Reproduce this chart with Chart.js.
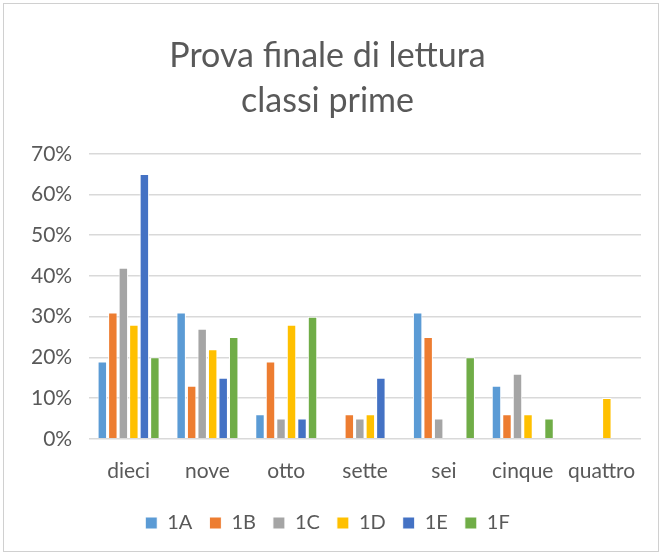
<!DOCTYPE html>
<html>
<head>
<meta charset="utf-8">
<script src="https://cdn.jsdelivr.net/npm/chart.js@4"></script>
<style>
  html, body { margin: 0; padding: 0; background: #fff; }
  #wrap { position: absolute; left: 3px; top: 3px; width: 656px; height: 549px; border: 1px solid #d0d0d0; box-sizing: border-box; }
</style>
</head>
<body>
<div id="wrap"><canvas id="chart"></canvas></div>
<script>
const categories = ['dieci', 'nove', 'otto', 'sette', 'sei', 'cinque', 'quattro'];
const classi = ['1A', '1B', '1C', '1D', '1E', '1F'];
const v1A = [19, 31, 6, 0, 31, 13, 0];
const v1B = [31, 13, 19, 6, 25, 6, 0];
const v1C = [42, 27, 5, 5, 5, 16, 0];
const v1D = [28, 22, 28, 6, 0, 6, 10];
const v1E = [65, 15, 5, 15, 0, 0, 0];
const v1F = [20, 25, 30, 0, 20, 5, 0];
const colori = ['#5b9bd5', '#ed7d31', '#a5a5a5', '#ffc000', '#4472c4', '#70ad47'];

const serie = [v1A, v1B, v1C, v1D, v1E, v1F];
const FONT = 'Lato, "Liberation Sans", sans-serif';
const GREY = '#595959';

new Chart(document.getElementById('chart').getContext('2d'), {
    type: 'bar',
    data: {
        labels: categories,
        datasets: serie.map((d, i) => ({
            label: classi[i],
            data: d,
            backgroundColor: colori[i],
            borderColor: '#ffffff',
            borderWidth: 1,
            categoryPercentage: 0.8,
            barPercentage: 0.9
        }))
    },
    options: {
        responsive: true,
        maintainAspectRatio: false,
        animation: false,
        layout: { padding: { left: 10, right: 17, top: 20, bottom: 8 } },
        plugins: {
            title: {
                display: true,
                text: ['Prova finale di lettura', 'classi prime'],
                color: GREY,
                font: { family: FONT, size: 34, weight: 'normal', lineHeight: 1.32 },
                padding: { top: 10, bottom: 30 }
            },
            legend: {
                position: 'bottom',
                labels: {
                    color: GREY,
                    font: { family: FONT, size: 20 },
                    boxWidth: 12,
                    boxHeight: 12,
                    padding: 17
                }
            },
            tooltip: { enabled: false }
        },
        scales: {
            x: {
                grid: { display: false },
                border: { display: false },
                ticks: { color: GREY, font: { family: FONT, size: 21 }, padding: 12 }
            },
            y: {
                min: 0,
                max: 70,
                ticks: {
                    stepSize: 10,
                    color: GREY,
                    font: { family: FONT, size: 21 },
                    padding: 17,
                    callback: v => v + '%'
                },
                grid: { color: '#d9d9d9', lineWidth: 1.5, drawTicks: false },
                border: { display: false }
            }
        }
    }
});
</script>
</body>
</html>
